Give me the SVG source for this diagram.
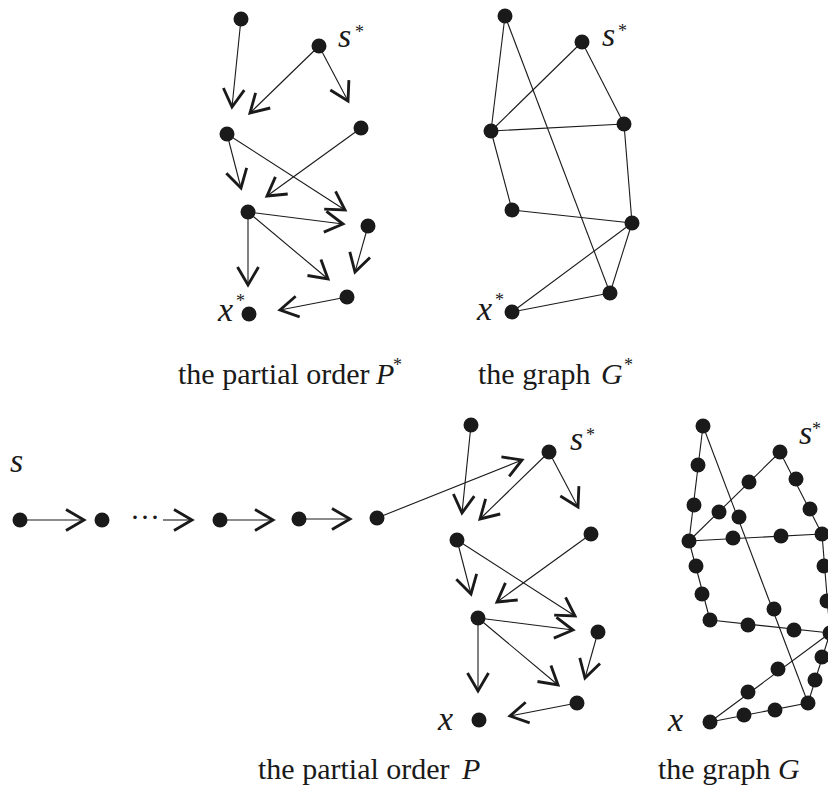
<svg xmlns="http://www.w3.org/2000/svg" width="828" height="793" viewBox="0 0 828 793">
<defs>
<style>
.n{fill:#1a1a1a}
.e{stroke:#1a1a1a;stroke-width:1.1;fill:none}
.a{stroke:#1a1a1a;stroke-width:1.1;fill:none;marker-end:url(#ah)}
.lab{font-family:"Liberation Serif","Times New Roman",serif;font-style:italic;font-size:34px;fill:#1a1a1a}
.sup{font-family:"Liberation Serif","Times New Roman",serif;font-size:18px;fill:#1a1a1a}
.cap{font-family:"Liberation Serif","Times New Roman",serif;font-size:30px;fill:#1a1a1a}
.capi{font-family:"Liberation Serif","Times New Roman",serif;font-style:italic;font-size:30px;fill:#1a1a1a}
</style>
<marker id="ah" markerUnits="userSpaceOnUse" markerWidth="30" markerHeight="30" viewBox="-15 -10 17 20" refX="0" refY="0" orient="auto">
<path d="M-12,-7 L0,0 L-12,7" fill="none" stroke="#1a1a1a" stroke-width="1.9" stroke-linejoin="miter"/>
</marker>
</defs>
<rect width="828" height="793" fill="#fff"/>

<g id="connectors">
<!-- top partial order -->
<line class="a" x1="241" y1="19" x2="232" y2="107"/>
<line class="a" x1="319" y1="46" x2="250" y2="113"/>
<line class="a" x1="319" y1="46" x2="348" y2="101"/>
<line class="a" x1="227" y1="134" x2="241" y2="188"/>
<line class="a" x1="361" y1="128" x2="267" y2="196"/>
<line class="a" x1="227" y1="134" x2="345" y2="210"/>
<line class="a" x1="248" y1="212" x2="343" y2="224"/>
<line class="a" x1="248" y1="212" x2="248" y2="285"/>
<line class="a" x1="248" y1="212" x2="328" y2="279"/>
<line class="a" x1="368" y1="226" x2="355" y2="272"/>
<line class="a" x1="347" y1="297" x2="280" y2="310"/>
<!-- top graph -->
<line class="e" x1="505" y1="16" x2="491" y2="131"/>
<line class="e" x1="505" y1="16" x2="610" y2="293"/>
<line class="e" x1="582" y1="42" x2="491" y2="131"/>
<line class="e" x1="582" y1="42" x2="624" y2="124"/>
<line class="e" x1="491" y1="131" x2="624" y2="124"/>
<line class="e" x1="491" y1="131" x2="512" y2="210"/>
<line class="e" x1="624" y1="124" x2="632" y2="223"/>
<line class="e" x1="512" y1="210" x2="632" y2="223"/>
<line class="e" x1="632" y1="223" x2="512" y2="312"/>
<line class="e" x1="632" y1="223" x2="610" y2="293"/>
<line class="e" x1="512" y1="312" x2="610" y2="293"/>
<!-- chain -->
<line class="a" x1="20" y1="520" x2="84" y2="520"/>
<line class="a" x1="163" y1="520" x2="192" y2="520"/>
<line class="a" x1="220" y1="520" x2="273" y2="520"/>
<line class="a" x1="299" y1="519" x2="350" y2="519"/>
<line class="a" x1="377" y1="518" x2="522" y2="460"/>
<!-- bottom partial order -->
<line class="a" x1="471" y1="425" x2="462" y2="513"/>
<line class="a" x1="549" y1="452" x2="480" y2="519"/>
<line class="a" x1="549" y1="452" x2="578" y2="507"/>
<line class="a" x1="457" y1="540" x2="471" y2="594"/>
<line class="a" x1="591" y1="534" x2="497" y2="602"/>
<line class="a" x1="457" y1="540" x2="575" y2="616"/>
<line class="a" x1="478" y1="618" x2="573" y2="630"/>
<line class="a" x1="478" y1="618" x2="478" y2="691"/>
<line class="a" x1="478" y1="618" x2="558" y2="685"/>
<line class="a" x1="598" y1="632" x2="585" y2="678"/>
<line class="a" x1="577" y1="703" x2="510" y2="716"/>
<!-- bottom graph -->
<line class="e" x1="703" y1="426" x2="689" y2="541"/>
<line class="e" x1="703" y1="426" x2="808" y2="703"/>
<line class="e" x1="780" y1="452" x2="689" y2="541"/>
<line class="e" x1="780" y1="452" x2="822" y2="534"/>
<line class="e" x1="689" y1="541" x2="822" y2="534"/>
<line class="e" x1="689" y1="541" x2="710" y2="620"/>
<line class="e" x1="822" y1="534" x2="830" y2="633"/>
<line class="e" x1="710" y1="620" x2="830" y2="633"/>
<line class="e" x1="830" y1="633" x2="710" y2="722"/>
<line class="e" x1="830" y1="633" x2="808" y2="703"/>
<line class="e" x1="710" y1="722" x2="808" y2="703"/>
</g>

<!-- top partial order nodes -->
<g id="p1"><circle class="n" cx="241" cy="19" r="7.5"/></g>
<g id="p1s"><circle class="n" cx="319" cy="46" r="7.5"/></g>
<g id="p1b"><circle class="n" cx="227" cy="134" r="7.5"/></g>
<g id="p1c"><circle class="n" cx="361" cy="128" r="7.5"/></g>
<g id="p1d"><circle class="n" cx="248" cy="212" r="7.5"/></g>
<g id="p1e"><circle class="n" cx="368" cy="226" r="7.5"/></g>
<g id="p1f"><circle class="n" cx="347" cy="297" r="7.5"/></g>
<g id="p1x"><circle class="n" cx="249" cy="314" r="7.5"/></g>

<!-- top graph nodes -->
<g id="g1a"><circle class="n" cx="505" cy="16" r="7.5"/></g>
<g id="g1s"><circle class="n" cx="582" cy="42" r="7.5"/></g>
<g id="g1b"><circle class="n" cx="491" cy="131" r="7.5"/></g>
<g id="g1c"><circle class="n" cx="624" cy="124" r="7.5"/></g>
<g id="g1d"><circle class="n" cx="512" cy="210" r="7.5"/></g>
<g id="g1e"><circle class="n" cx="632" cy="223" r="7.5"/></g>
<g id="g1f"><circle class="n" cx="610" cy="293" r="7.5"/></g>
<g id="g1x"><circle class="n" cx="512" cy="312" r="7.5"/></g>

<!-- chain nodes -->
<g id="c0"><circle class="n" cx="20" cy="520" r="7.5"/></g>
<g id="c1"><circle class="n" cx="102" cy="520" r="7.5"/></g>
<g id="cdots"><text x="130" y="527" style="font-family:'Liberation Serif',serif;font-size:30px;fill:#1a1a1a">···</text></g>
<g id="c2"><circle class="n" cx="220" cy="520" r="7.5"/></g>
<g id="c3"><circle class="n" cx="299" cy="519" r="7.5"/></g>
<g id="c4"><circle class="n" cx="377" cy="518" r="7.5"/></g>

<!-- bottom partial order nodes -->
<g id="p2"><circle class="n" cx="471" cy="425" r="7.5"/></g>
<g id="p2s"><circle class="n" cx="549" cy="452" r="7.5"/></g>
<g id="p2b"><circle class="n" cx="457" cy="540" r="7.5"/></g>
<g id="p2c"><circle class="n" cx="591" cy="534" r="7.5"/></g>
<g id="p2d"><circle class="n" cx="478" cy="618" r="7.5"/></g>
<g id="p2e"><circle class="n" cx="598" cy="632" r="7.5"/></g>
<g id="p2f"><circle class="n" cx="577" cy="703" r="7.5"/></g>
<g id="p2x"><circle class="n" cx="479" cy="720" r="7.5"/></g>

<!-- bottom graph nodes -->
<g id="g2a"><circle class="n" cx="703" cy="426" r="7.5"/></g>
<g id="g2s"><circle class="n" cx="780" cy="452" r="7.5"/></g>
<g id="g2b"><circle class="n" cx="689" cy="541" r="7.5"/></g>
<g id="g2c"><circle class="n" cx="822" cy="534" r="7.5"/></g>
<g id="g2d"><circle class="n" cx="710" cy="620" r="7.5"/></g>
<g id="g2e"><circle class="n" cx="830" cy="633" r="7.5"/></g>
<g id="g2f"><circle class="n" cx="808" cy="703" r="7.5"/></g>
<g id="g2x"><circle class="n" cx="710" cy="722" r="7.5"/></g>
<g id="g2ab1"><circle class="n" cx="698" cy="465" r="7.5"/></g>
<g id="g2ab2"><circle class="n" cx="694" cy="505" r="7.5"/></g>
<g id="g2sb1"><circle class="n" cx="749" cy="482" r="7.5"/></g>
<g id="g2sb2"><circle class="n" cx="719" cy="512" r="7.5"/></g>
<g id="g2af1"><circle class="n" cx="739" cy="517" r="7.5"/></g>
<g id="g2af2"><circle class="n" cx="774" cy="609" r="7.5"/></g>
<g id="g2sc1"><circle class="n" cx="796" cy="479" r="7.5"/></g>
<g id="g2sc2"><circle class="n" cx="810" cy="509" r="7.5"/></g>
<g id="g2bc1"><circle class="n" cx="733" cy="538" r="7.5"/></g>
<g id="g2bc2"><circle class="n" cx="781" cy="536" r="7.5"/></g>
<g id="g2bd1"><circle class="n" cx="696" cy="566" r="7.5"/></g>
<g id="g2bd2"><circle class="n" cx="702" cy="594" r="7.5"/></g>
<g id="g2ce1"><circle class="n" cx="824" cy="566" r="7.5"/></g>
<g id="g2ce2"><circle class="n" cx="827" cy="601" r="7.5"/></g>
<g id="g2de1"><circle class="n" cx="748" cy="625" r="7.5"/></g>
<g id="g2de2"><circle class="n" cx="794" cy="630" r="7.5"/></g>
<g id="g2ex1"><circle class="n" cx="778" cy="669" r="7.5"/></g>
<g id="g2ex2"><circle class="n" cx="748" cy="692" r="7.5"/></g>
<g id="g2ef1"><circle class="n" cx="822" cy="657" r="7.5"/></g>
<g id="g2ef2"><circle class="n" cx="815" cy="680" r="7.5"/></g>
<g id="g2xf1"><circle class="n" cx="744" cy="715" r="7.5"/></g>
<g id="g2xf2"><circle class="n" cx="775" cy="710" r="7.5"/></g>

<!-- labels -->
<g id="labels">
<text class="lab" x="338" y="47">s</text><text class="sup" x="355" y="38">*</text>
<text class="lab" x="602" y="46">s</text><text class="sup" x="618" y="37">*</text>
<text class="lab" x="218" y="321">x</text><text class="sup" x="236" y="307">*</text>
<text class="lab" x="477" y="320">x</text><text class="sup" x="495" y="306">*</text>
<text class="lab" x="10" y="472">s</text>
<text class="lab" x="570" y="450">s</text><text class="sup" x="586" y="441">*</text>
<text class="lab" x="799" y="444">s</text><text class="sup" x="812" y="435">*</text>
<text class="lab" x="438" y="730">x</text>
<text class="lab" x="668" y="731">x</text>
<text class="cap" x="178" y="384">the partial order</text><text class="capi" x="376" y="384">P</text><text class="sup" x="393" y="371">*</text>
<text class="cap" x="478" y="384">the graph</text><text class="capi" x="601" y="384">G</text><text class="sup" x="624" y="371">*</text>
<text class="cap" x="258" y="779">the partial order</text><text class="capi" x="462" y="779">P</text>
<text class="cap" x="658" y="779">the graph</text><text class="capi" x="778" y="779">G</text>
</g>
</svg>
